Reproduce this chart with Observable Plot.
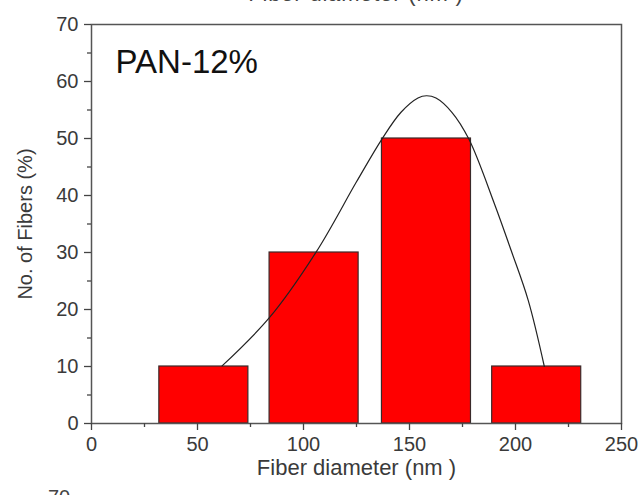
<!DOCTYPE html>
<html><head><meta charset="utf-8">
<script src="https://cdn.jsdelivr.net/npm/d3@7"></script>
<script src="https://cdn.jsdelivr.net/npm/@observablehq/plot@0.6"></script>
<style>
body{margin:0;background:#fff;}
#wrap{position:relative;width:641px;height:495px;overflow:hidden;background:#fff;font-family:"Liberation Sans",Arial,sans-serif;}
.ghost{position:absolute;color:#444;font-size:22px;letter-spacing:0.8px;white-space:pre;line-height:1;}
</style></head><body>
<div id="wrap"></div>
<script>
// Histogram bins (nm) and percentages
const binLo = [32, 84, 137, 189];
const binHi = [74, 126, 179, 231];
const fiberPct = [10, 30, 50, 10];
// Fitted distribution curve
const fitX = [61.6, 84, 106, 125, 137, 146, 154, 158, 162.5, 170, 178, 190, 198, 206, 213.6];
const fitY = [10.1, 18.6, 30.1, 42.4, 49.9, 54.6, 57.1, 57.5, 57.1, 54.6, 49.9, 38.6, 30.3, 21.6, 10.0];
// Ticks
const xTicks = [0, 50, 100, 150, 200, 250];
const xMinor = [25, 75, 125, 175, 225];
const yTicks = [0, 10, 20, 30, 40, 50, 60, 70];
const yMinor = [5, 15, 25, 35, 45, 55, 65];
const sampleLabel = "PAN-12%";
const xTitle = "Fiber diameter (nm )";
const yTitle = "No. of Fibers (%)";

const bars = binLo.map((lo, i) => ({lo, hi: binHi[i], pct: fiberPct[i]}));
const fit = fitX.map((x, i) => ({x, y: fitY[i]}));

const chart = Plot.plot({
  width: 641, height: 495,
  marginLeft: 91, marginRight: 20, marginTop: 24, marginBottom: 72,
  style: {fontFamily: '"Liberation Sans", Arial, sans-serif', fontSize: "20px", color: "#3a3a3a", background: "white", overflow: "visible"},
  x: {domain: [0, 250]},
  y: {domain: [0, 70]},
  marks: [
    Plot.rectY(bars, {x1: "lo", x2: "hi", y: "pct", fill: "#ff0000", stroke: "#3a2a2a", strokeWidth: 1.2}),
    Plot.line(fit, {x: "x", y: "y", curve: "catmull-rom", stroke: "#222", strokeWidth: 1.2}),
    Plot.frame({stroke: "#555", strokeWidth: 1.5}),
    Plot.axisX(xTicks, {tickSize: 7, tickPadding: 6, strokeWidth: 1.3, stroke: "#444", label: null}),
    Plot.axisX(xMinor, {tickSize: 4, tickFormat: () => "", label: null, stroke: "#444", strokeWidth: 1.3}),
    Plot.text([xTitle], {frameAnchor: "bottom", dy: 44, fontSize: 22, fill: "#3a3a3a", lineAnchor: "middle", letterSpacing: 0.8}),
    Plot.axisY(yTicks, {tickSize: 7, tickPadding: 6, strokeWidth: 1.3, stroke: "#444", label: yTitle, labelAnchor: "center", labelArrow: "none", labelOffset: 74, fontSize: 20}),
    Plot.axisY(yMinor, {tickSize: 4, tickFormat: () => "", label: null, stroke: "#444", strokeWidth: 1.3}),
    Plot.text([sampleLabel], {frameAnchor: "top-left", dx: 24, dy: 25, lineAnchor: "top", textAnchor: "start", fontSize: 33, fill: "#111"})
  ]
});
const wrap = document.getElementById("wrap");
wrap.appendChild(chart);
// Fragments of neighbouring panels cut by the picture edges
const topGhost = document.createElement("div");
topGhost.className = "ghost"; topGhost.textContent = xTitle;
topGhost.style.left = "0"; topGhost.style.width = "712px"; topGhost.style.textAlign = "center"; topGhost.style.top = "-17px";
wrap.appendChild(topGhost);
const botGhost = document.createElement("div");
botGhost.className = "ghost"; botGhost.textContent = "70";
botGhost.style.fontSize = "20px"; botGhost.style.letterSpacing = "0";
botGhost.style.left = "48px"; botGhost.style.top = "487px";
wrap.appendChild(botGhost);
</script>
</body></html>
